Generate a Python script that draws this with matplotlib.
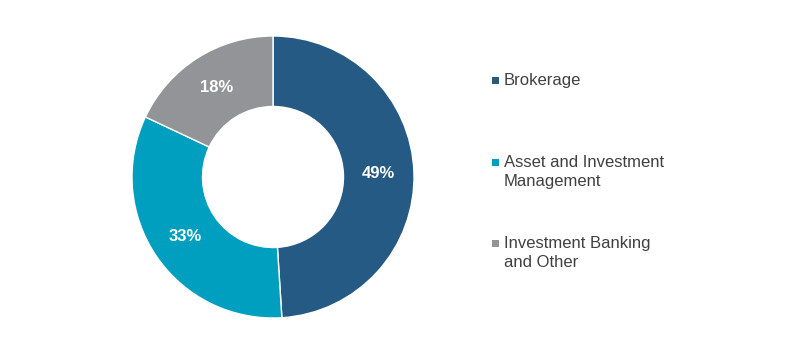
import matplotlib.pyplot as plt
from matplotlib.patches import Rectangle

labels = ["Brokerage", "Asset and Investment\nManagement", "Investment Banking\nand Other"]
shares = [49, 33, 18]
colors = ["#245a84", "#009fc0", "#929497"]

plt.rcParams["font.family"] = ["Liberation Sans", "DejaVu Sans"]

fig = plt.figure(figsize=(8, 3.45), dpi=100)
ax = fig.add_axes([132 / 800, 27 / 345, 282 / 800, 282 / 345])

wedges, texts, autotexts = ax.pie(
    shares, colors=colors, startangle=90, counterclock=False,
    radius=1, pctdistance=0.75,
    autopct=lambda p: f"{p:.0f}%",
    wedgeprops=dict(width=0.5, edgecolor="white", linewidth=1),
)
for t in autotexts:
    t.set_color("white")
    t.set_fontsize(12)
    t.set_fontweight("bold")
ax.set_xlim(-1, 1)
ax.set_ylim(-1, 1)
ax.set_aspect("equal")
ax.axis("off")

# legend drawn by hand so the square sits on the first line
first_line_y = [80, 162, 243]
for lab, col, yc in zip(labels, colors, first_line_y):
    fig.patches.append(Rectangle((492 / 800, 1 - (yc + 4) / 345), 7 / 800, 7 / 345,
                                 transform=fig.transFigure, facecolor=col, edgecolor="none"))
    fig.text(504 / 800, 1 - (yc - 7) / 345, lab, fontsize=12, color="#404040",
             va="top", ha="left", linespacing=1.3)

fig.savefig("out.png", dpi=100)
